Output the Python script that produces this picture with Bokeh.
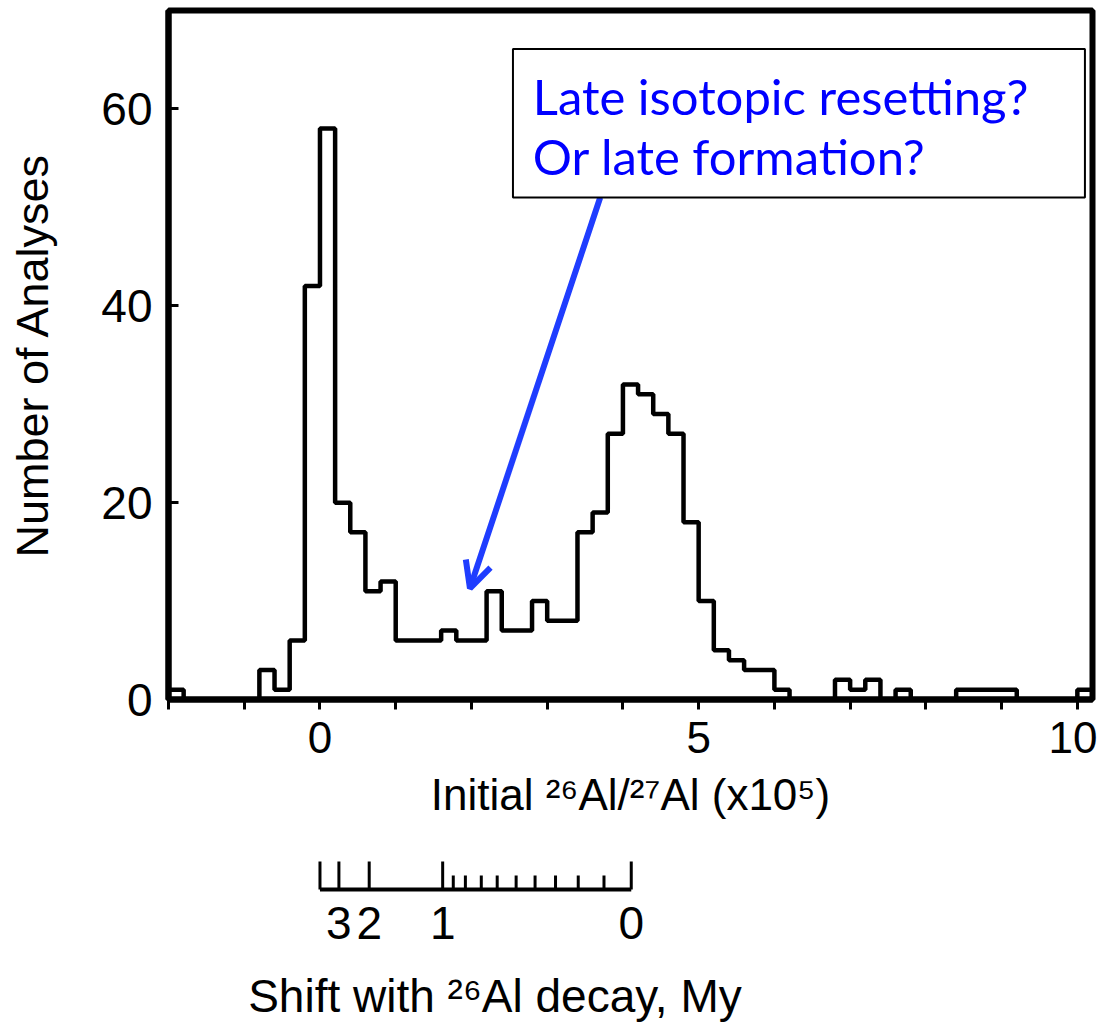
from bokeh.plotting import figure
from bokeh.models import Range1d, FixedTicker, BoxAnnotation, Arrow, OpenHead, Label
from bokeh.layouts import column
from bokeh.embed import file_html
from bokeh.resources import INLINE
from bokeh.core.properties import value

# ---------------- data ----------------
bin_start = -2.0
bin_width = 0.2
counts = [1, 0, 0, 0, 0, 0, 3, 1, 6, 42, 58, 20, 17, 11, 12,
          6, 6, 6, 7, 6, 6, 11, 7, 7, 10, 8, 8,
          17, 19, 27, 32, 31, 29, 27, 18, 10, 5, 4, 3, 3, 1,
          0, 0, 0, 2, 1, 2, 0, 1, 0, 0, 0, 1, 1, 1, 1, 0, 0, 0, 0, 1]

x_ticks = [-2, -1, 0, 1, 2, 3, 4, 5, 6, 7, 8, 9, 10]
x_tick_labelled = [0, 5, 10]
y_ticks = [0, 20, 40, 60]

# decay scale (Initial 26Al/27Al positions of the My marks)
decay_start = 0.0
decay_major_pos = [0.25, 0.65, 1.62, 4.11]
decay_major_lab = ["3", "2", "1", "0"]
decay_minor_pos = [1.76, 1.92, 2.13, 2.34, 2.59, 2.84, 3.11, 3.41, 3.75]

note_lines = ["Late isotopic resetting?", "Or late formation?"]

# ---------------- styling ----------------
SANS = "'Liberation Sans', Arial, sans-serif"
BLUE_TXT = "#0000ff"
BLUE_ARW = "#1f3dff"

edges = [round(bin_start + i * bin_width, 1) for i in range(len(counts) + 1)]
xs = [edges[0]] + edges
ys = [0] + counts + [0]

p = figure(width=1097, height=840,
           x_range=Range1d(edges[0], edges[-1]), y_range=Range1d(0, 70),
           output_backend="svg", toolbar_location=None,
           min_border_left=168, min_border_right=5,
           min_border_top=10, min_border_bottom=141)
p.grid.visible = False
p.outline_line_color = "black"
p.outline_line_width = 6
p.background_fill_color = "white"
p.border_fill_color = "white"

p.step(xs, ys, mode="after", line_color="black", line_width=4.5)

# x axis
xa = p.xaxis[0]
xa.ticker = FixedTicker(ticks=x_ticks)
xa.major_label_overrides = {t: (str(t) if t in x_tick_labelled else "") for t in x_ticks}
xa.axis_line_width = 6
xa.major_tick_line_width = 3
xa.major_tick_in = 0
xa.major_tick_out = 10
xa.minor_tick_line_color = None
xa.major_label_text_font = SANS
xa.major_label_text_font_size = "44px"
xa.major_label_text_color = "black"
xa.major_label_standoff = 12
xa.axis_label = "Initial ²⁶Al/²⁷Al (x10⁵)"
xa.axis_label_text_font = SANS
xa.axis_label_text_font_size = "44px"
xa.axis_label_text_font_style = "normal"
xa.axis_label_text_color = "black"
xa.axis_label_standoff = 14

# y axis
ya = p.yaxis[0]
ya.ticker = FixedTicker(ticks=y_ticks)
ya.axis_line_width = 6
ya.major_tick_line_width = 3
ya.major_tick_in = 10
ya.major_tick_out = 0
ya.minor_tick_line_color = None
ya.major_label_text_font = SANS
ya.major_label_text_font_size = "46px"
ya.major_label_text_color = "black"
ya.major_label_standoff = 16
ya.axis_label = "Number of Analyses"
ya.axis_label_text_font = SANS
ya.axis_label_text_font_size = "45px"
ya.axis_label_text_font_style = "normal"
ya.axis_label_text_color = "black"
ya.axis_label_standoff = 40

# annotation: arrow + box + text
p.add_layout(Arrow(end=OpenHead(size=26, line_color=BLUE_ARW, line_width=6),
                   x_start=3.70, y_start=51.0, x_end=1.98, y_end=11.3,
                   line_color=BLUE_ARW, line_width=6))
p.add_layout(BoxAnnotation(left=2.548, right=10.10, bottom=51.0, top=66.1,
                           fill_color="white", fill_alpha=1.0,
                           line_color="black", line_width=2, line_alpha=1.0))
for txt, yy in zip(note_lines, [61.3, 55.2]):
    p.add_layout(Label(x=2.81, y=yy, text=txt, text_font="Lato",
                       text_font_size="49px", text_color=BLUE_TXT,
                       text_baseline="alphabetic", text_align="left"))

# ---------------- decay scale figure ----------------
p2 = figure(width=1097, height=182, x_range=p.x_range, y_range=Range1d(182, 0),
            output_backend="svg", toolbar_location=None,
            x_axis_type=None, y_axis_type=None,
            min_border_left=168, min_border_right=5,
            min_border_top=0, min_border_bottom=0)
p2.grid.visible = False
p2.outline_line_color = None
p2.background_fill_color = "white"
p2.border_fill_color = "white"

line_y = 49
p2.segment(x0=[decay_start], x1=[max(decay_major_pos)], y0=[line_y], y1=[line_y],
           line_color="black", line_width=4)
tall = [decay_start] + decay_major_pos
p2.segment(x0=tall, x1=tall, y0=[line_y] * len(tall), y1=[21] * len(tall),
           line_color="black", line_width=3)
p2.segment(x0=decay_minor_pos, x1=decay_minor_pos,
           y0=[line_y] * len(decay_minor_pos), y1=[35] * len(decay_minor_pos),
           line_color="black", line_width=3)
p2.text(x=decay_major_pos, y=[82] * len(decay_major_pos), text=decay_major_lab,
        text_align="center", text_baseline="middle",
        text_font=value(SANS), text_font_size="46px", text_color="black")
p2.text(x=[2.31], y=[155], text=["Shift with ²⁶Al decay, My"],
        text_align="center", text_baseline="middle",
        text_font=value(SANS), text_font_size="46px", text_color="black")

layout = column(p, p2, spacing=0)
open("out.html", "w").write(file_html(layout, INLINE))
